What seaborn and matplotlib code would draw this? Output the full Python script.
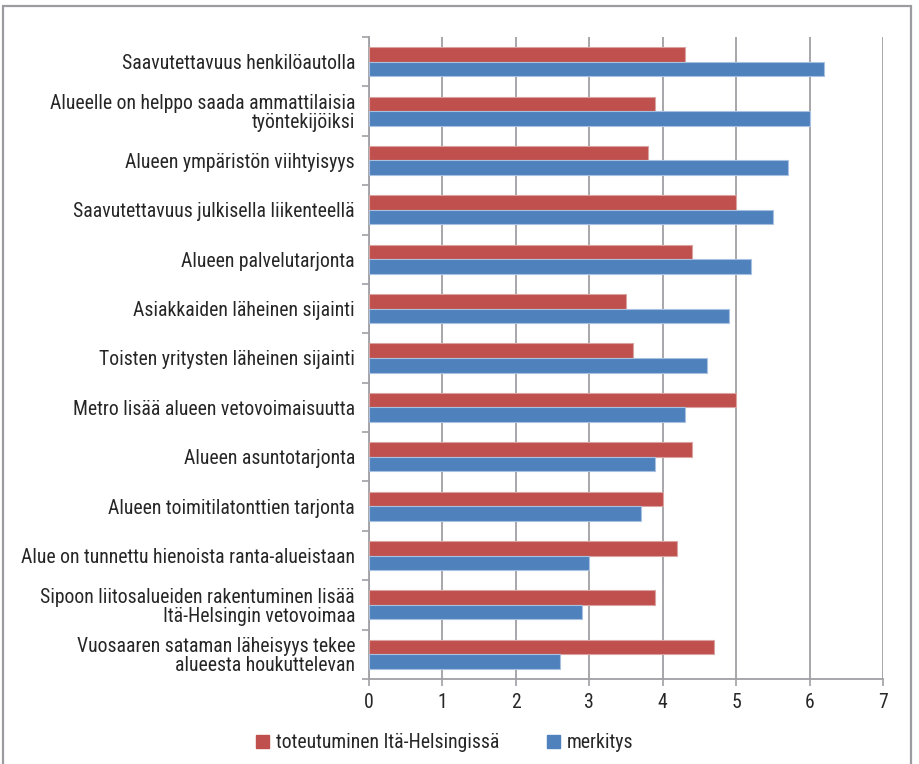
import matplotlib
matplotlib.use("Agg")
import matplotlib.pyplot as plt
from matplotlib import font_manager
from matplotlib.patches import Rectangle, Patch
import numpy as np
import pandas as pd
import seaborn as sns

categories = [
    "Saavutettavuus henkilöautolla",
    "Alueelle on helppo saada ammattilaisia\ntyöntekijöiksi",
    "Alueen ympäristön viihtyisyys",
    "Saavutettavuus julkisella liikenteellä",
    "Alueen palvelutarjonta",
    "Asiakkaiden läheinen sijainti",
    "Toisten yritysten läheinen sijainti",
    "Metro lisää alueen vetovoimaisuutta",
    "Alueen asuntotarjonta",
    "Alueen toimitilatonttien tarjonta",
    "Alue on tunnettu hienoista ranta-alueistaan",
    "Sipoon liitosalueiden rakentuminen lisää\nItä-Helsingin vetovoimaa",
    "Vuosaaren sataman läheisyys tekee\nalueesta houkuttelevan",
]
toteutuminen = [4.3, 3.9, 3.8, 5.0, 4.4, 3.5, 3.6, 5.0, 4.4, 4.0, 4.2, 3.9, 4.7]
merkitys = [6.2, 6.0, 5.7, 5.5, 5.2, 4.9, 4.6, 4.3, 3.9, 3.7, 3.0, 2.9, 2.6]
series_names = ["toteutuminen Itä-Helsingissä", "merkitys"]
x_ticks = [0, 1, 2, 3, 4, 5, 6, 7]

RED = "#C0504D"
BLUE = "#4F81BD"
EDGE = {RED.lower(): "#D9A3A1", BLUE.lower(): "#A9C1E0"}
GRID = "#A0A0A5"
TEXT = "#262626"
FS = 14.2

sns.set_theme(style="white")
available = {f.name for f in font_manager.fontManager.ttflist}
family = []
for name in ["Liberation Sans Narrow", "Roboto Condensed", "Open Sans Condensed",
             "DejaVu Sans Condensed", "Liberation Sans", "DejaVu Sans"]:
    if name in available:
        family.append(name)
family.append("DejaVu Sans")
plt.rcParams["font.family"] = family

df = pd.DataFrame({
    "kohde": categories * 2,
    "arvo": toteutuminen + merkitys,
    "sarja": [series_names[0]] * len(categories) + [series_names[1]] * len(categories),
})

fig = plt.figure(figsize=(9.19, 7.64), dpi=100)
ax = fig.add_axes([369 / 919, 1 - 679 / 764, (883 - 369) / 919, (679 - 37) / 764])

sns.barplot(data=df, y="kohde", x="arvo", hue="sarja", hue_order=series_names,
            order=categories, orient="h", palette=[RED, BLUE], width=0.59,
            saturation=1, ax=ax, legend=False, zorder=3)

for p in ax.patches:
    fc = matplotlib.colors.to_hex(p.get_facecolor()).lower()
    p.set_edgecolor(EDGE.get(fc, "white"))
    p.set_linewidth(0.8)

n = len(categories)
ax.set_xlim(0, 7)
ax.set_ylim(n - 0.5, -0.5)
ax.set_xticks(x_ticks)
ax.set_xticklabels([str(t) for t in x_ticks])
ax.set_yticks(np.arange(-0.5, n, 1), minor=True)
ax.tick_params(axis="y", which="major", length=0, pad=10, labelsize=FS, labelcolor=TEXT)
ax.tick_params(axis="y", which="minor", length=5, width=1.2, color=GRID, direction="out", left=True)
ax.tick_params(axis="x", which="major", length=5, width=1.2, color=GRID, direction="out",
               bottom=True, pad=5, labelsize=FS, labelcolor=TEXT)
for lbl in ax.get_yticklabels():
    lbl.set_linespacing(1.0)
ax.set_xlabel("")
ax.set_ylabel("")

ax.grid(axis="x", color=GRID, linewidth=1.3, zorder=0)
ax.set_axisbelow(True)
for side in ["top", "right"]:
    ax.spines[side].set_visible(False)
for side in ["left", "bottom"]:
    ax.spines[side].set_color(GRID)
    ax.spines[side].set_linewidth(1.3)

handles = [Patch(facecolor=RED, edgecolor=RED), Patch(facecolor=BLUE, edgecolor=BLUE)]
fig.legend(handles, series_names, loc="center", bbox_to_anchor=(0.484, 1 - 743 / 764),
           ncol=2, frameon=False, fontsize=FS, handlelength=0.65, handleheight=0.65,
           handletextpad=0.35, columnspacing=2.4, labelcolor=TEXT)

fig.patches.append(Rectangle((3 / 919, -0.05), (911 - 3) / 919, 1.05 - 6 / 764,
                             transform=fig.transFigure, fill=False,
                             edgecolor="#9C9CA0", linewidth=1.6, zorder=10))

fig.savefig("out.png", dpi=100, facecolor="white")
